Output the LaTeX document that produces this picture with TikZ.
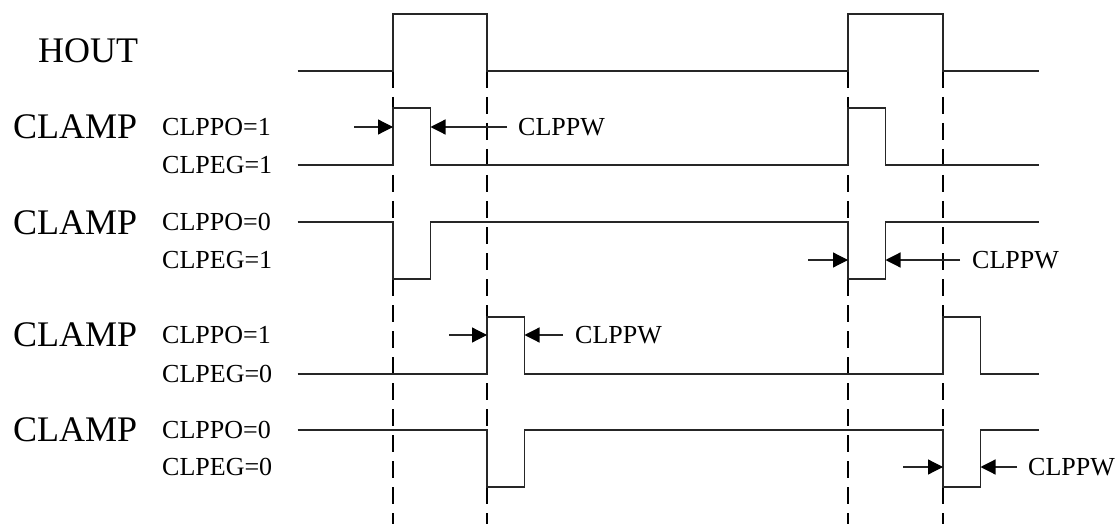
\documentclass[tikz,border=0pt]{standalone}
\usepackage{fontspec}
\setmainfont{Liberation Serif}
\usetikzlibrary{arrows.meta}
\begin{document}
\begin{tikzpicture}[x=1pt,y=-1pt,
  sig/.style={draw=black!85,line width=1.2pt,line join=miter},
  guide/.style={draw=black,line width=2.3pt,dash pattern=on 17pt off 9pt},
  dimarrow/.style={draw=black!85,line width=1.2pt,-{Triangle[length=15pt,width=15pt,fill=black,color=black]}},
  biglbl/.style={anchor=west,inner sep=0pt,font=\fontsize{36}{40}\selectfont},
  smalllbl/.style={anchor=west,inner sep=0pt,font=\fontsize{26}{30}\selectfont}]
\useasboundingbox (0,0) rectangle (1117,524);
\fill[white] (0,0) rectangle (1117,524);

% x positions
\def\xs{297.5}\def\xa{393}\def\xb{487}\def\xc{848}\def\xd{943}\def\xe{1038.5}
\def\pw{37.5}

% guide lines
\coordinate (g1t) at (\xa,71); \coordinate (g1b) at (\xa,524);
\coordinate (g2t) at (\xb,71); \coordinate (g2b) at (\xb,524);
\coordinate (g3t) at (\xc,71); \coordinate (g3b) at (\xc,524);
\coordinate (g4t) at (\xd,71); \coordinate (g4b) at (\xd,524);
\draw[guide] (g1t) -- (g1b);
\draw[guide] (g2t) -- (g2b);
\draw[guide] (g3t) -- (g3b);
\draw[guide] (g4t) -- (g4b);

% HOUT
\draw[sig] (\xs,71) -- (\xa,71) -- (\xa,14) -- (\xb,14) -- (\xb,71) -- (\xc,71) -- (\xc,14) -- (\xd,14) -- (\xd,71) -- (\xe,71);
% Row 1
\draw[sig] (\xs,165) -- (\xa,165) -- (\xa,108) -- (\xa+\pw,108) -- (\xa+\pw,165) -- (\xc,165) -- (\xc,108) -- (\xc+\pw,108) -- (\xc+\pw,165) -- (\xe,165);
% Row 2
\draw[sig] (\xs,222) -- (\xa,222) -- (\xa,279) -- (\xa+\pw,279) -- (\xa+\pw,222) -- (\xc,222) -- (\xc,279) -- (\xc+\pw,279) -- (\xc+\pw,222) -- (\xe,222);
% Row 3
\draw[sig] (\xs,374) -- (\xb,374) -- (\xb,317) -- (\xb+\pw,317) -- (\xb+\pw,374) -- (\xd,374) -- (\xd,317) -- (\xd+\pw,317) -- (\xd+\pw,374) -- (\xe,374);
% Row 4
\draw[sig] (\xs,430) -- (\xb,430) -- (\xb,487) -- (\xb+\pw,487) -- (\xb+\pw,430) -- (\xd,430) -- (\xd,487) -- (\xd+\pw,487) -- (\xd+\pw,430) -- (\xe,430);

% labels
\node[biglbl] (hout) at (38,51) {HOUT};
\node[biglbl] (c1) at (13,127) {CLAMP};
\node[smalllbl] (po1) at (162,127) {CLPPO=1};
\node[smalllbl] (eg1) at (162,165) {CLPEG=1};
\node[biglbl] (c2) at (13,223) {CLAMP};
\node[smalllbl] (po2) at (162,222) {CLPPO=0};
\node[smalllbl] (eg2) at (162,260) {CLPEG=1};
\node[biglbl] (c3) at (13,335) {CLAMP};
\node[smalllbl] (po3) at (162,335) {CLPPO=1};
\node[smalllbl] (eg3) at (162,374) {CLPEG=0};
\node[biglbl] (c4) at (13,430) {CLAMP};
\node[smalllbl] (po4) at (162,430) {CLPPO=0};
\node[smalllbl] (eg4) at (162,467) {CLPEG=0};

% CLPPW markers
\node[smalllbl] (w1) at (518,127) {CLPPW};
\node[smalllbl] (w2) at (972,260) {CLPPW};
\node[smalllbl] (w3) at (575,335) {CLPPW};
\node[smalllbl] (w4) at (1028,467) {CLPPW};

\coordinate (a1s) at (354,127); \coordinate (a1t) at (\xa,127);
\coordinate (b1s) at (507,127); \coordinate (b1t) at (\xa+\pw,127);
\coordinate (a2s) at (808,260); \coordinate (a2t) at (\xc,260);
\coordinate (b2s) at (960,260); \coordinate (b2t) at (\xc+\pw,260);
\coordinate (a3s) at (449,335); \coordinate (a3t) at (\xb,335);
\coordinate (b3s) at (563,335); \coordinate (b3t) at (\xb+\pw,335);
\coordinate (a4s) at (903,467); \coordinate (a4t) at (\xd,467);
\coordinate (b4s) at (1017,467); \coordinate (b4t) at (\xd+\pw,467);
\draw[dimarrow] (a1s) -- (a1t);
\draw[dimarrow] (b1s) -- (b1t);
\draw[dimarrow] (a2s) -- (a2t);
\draw[dimarrow] (b2s) -- (b2t);
\draw[dimarrow] (a3s) -- (a3t);
\draw[dimarrow] (b3s) -- (b3t);
\draw[dimarrow] (a4s) -- (a4t);
\draw[dimarrow] (b4s) -- (b4t);
\end{tikzpicture}
\end{document}
